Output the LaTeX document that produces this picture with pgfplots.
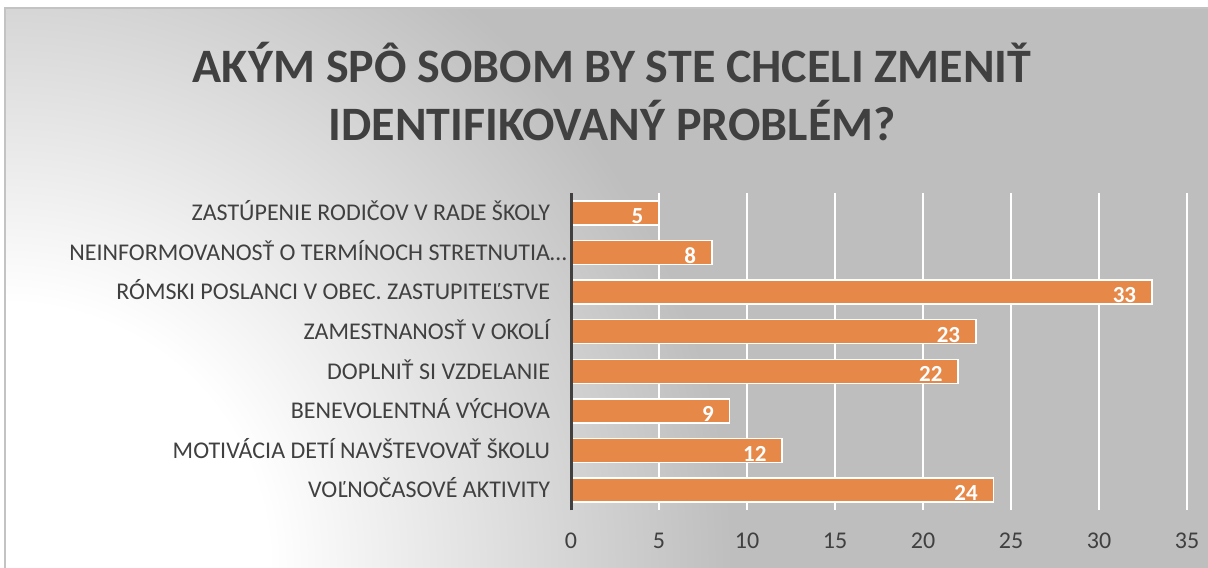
\documentclass[border=0pt]{standalone}
\usepackage{fontspec}
\setmainfont{Carlito}
\usepackage{pgfplots}
\pgfplotsset{compat=1.18}

\definecolor{bggray}{RGB}{190,190,190}
\definecolor{framegray}{RGB}{195,195,195}
\definecolor{txtgray}{RGB}{64,64,64}
\definecolor{barorange}{RGB}{230,136,72}

% white corner at bottom left fading into the gray
% (the middle 50bp square of the shading is fitted to the path)
\pgfdeclareradialshading{chartbg}{\pgfpoint{0bp}{0bp}}{%
  color(0bp)=(white); color(4.7bp)=(white); color(13bp)=(bggray);
  color(25bp)=(bggray); color(50bp)=(bggray)}

\begin{document}
\begin{tikzpicture}[x=1bp, y=1bp]
\useasboundingbox (0,0) rectangle (604,283.5);
\begin{scope}
  \clip (2.5,0) rectangle (604,279.5);
  \fill[bggray] (2.5,0) rectangle (604,279.5);
  \shade[shading=chartbg] (2.5,0) circle (700);
\end{scope}
\draw[framegray, line width=0.75bp] (2.5,-1) -- (2.5,279.5) -- (605,279.5);

% title
\node[anchor=base, text=txtgray, font=\fontsize{24bp}{29bp}\selectfont\bfseries]
  at (306,242.25) {AKÝM SPÔ SOBOM BY STE CHCELI ZMENIŤ};
\node[anchor=base, text=txtgray, font=\fontsize{24bp}{29bp}\selectfont\bfseries]
  at (306,213.25) {IDENTIFIKOVANÝ PROBLÉM?};

\begin{axis}[
  at={(285.5bp,28.5bp)}, anchor=south west,
  scale only axis,
  width=308bp, height=158.5bp,
  xbar, bar width=12bp,
  xmin=0, xmax=35,
  ymin=-0.5, ymax=7.5,
  xtick={0,5,...,35},
  ytick={0,...,7},
  yticklabels={VOĽNOČASOVÉ AKTIVITY,
    MOTIVÁCIA DETÍ NAVŠTEVOVAŤ ŠKOLU,
    BENEVOLENTNÁ VÝCHOVA,
    DOPLNIŤ SI VZDELANIE,
    ZAMESTNANOSŤ V OKOLÍ,
    RÓMSKI POSLANCI V OBEC. ZASTUPITEĽSTVE,
    NEINFORMOVANOSŤ O TERMÍNOCH STRETNUTIA\rlap{…},
    ZASTÚPENIE RODIČOV V RADE ŠKOLY},
  axis line style={draw=none},
  tick style={draw=none},
  xmajorgrids,
  major grid style={white, line width=0.75bp},
  /pgf/number format/assume math mode=true,
  xticklabel style={font=\fontsize{12bp}{14bp}\selectfont, text=txtgray,
    anchor=center, inner sep=0pt, yshift=-15.5bp},
  yticklabel style={font=\fontsize{12bp}{14bp}\selectfont, text=txtgray,
    anchor=base east, inner sep=0pt, xshift=-6bp, yshift=-3.9bp},
  nodes near coords,
  point meta=x,
  every node near coord/.append style={anchor=east, inner sep=0pt,
    xshift=-7.5bp, yshift=-1.5bp, text=white,
    font=\fontsize{11.5bp}{13bp}\selectfont\bfseries},
  clip=false,
]
  \addplot[fill=barorange, draw=white, line width=0.75bp]
    coordinates {(24,0) (12,1) (9,2) (22,3) (23,4) (33,5) (8,6) (5,7)};
  \draw[txtgray, line width=1.5bp] (axis cs:0,-0.5) -- (axis cs:0,7.5);
\end{axis}
\end{tikzpicture}
\end{document}
